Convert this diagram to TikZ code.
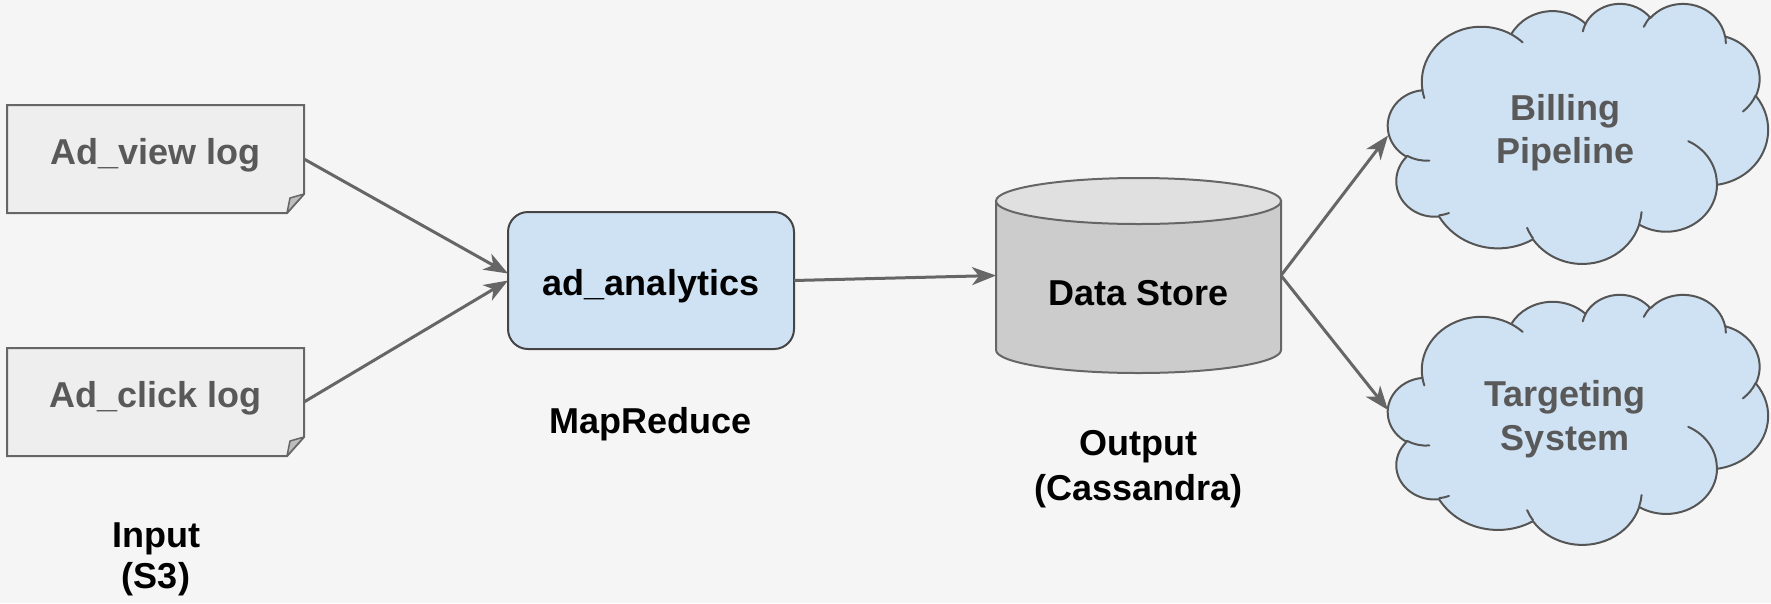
\documentclass[tikz,border=0pt]{standalone}
\usepackage{fontspec}
\setmainfont{Liberation Sans}
\usetikzlibrary{arrows.meta}

\definecolor{canvas}{HTML}{F5F5F5}
\definecolor{docfill}{HTML}{EEEEEE}
\definecolor{docline}{HTML}{666666}
\definecolor{foldfill}{HTML}{BDBDBD}
\definecolor{softtext}{HTML}{595959}
\definecolor{paleblue}{HTML}{CFE2F3}
\definecolor{boxline}{HTML}{454545}
\definecolor{cloudline}{HTML}{555555}
\definecolor{drumbody}{HTML}{CCCCCC}
\definecolor{drumtop}{HTML}{E0E0E0}
\definecolor{wire}{HTML}{666666}

\pgfdeclarelayer{shapes}
\pgfsetlayers{shapes,main}

\tikzset{
  bigtext/.style={font=\fontsize{36}{40}\selectfont\bfseries},
  frame/.style={inner sep=0pt, outer sep=0pt},
  docbox/.style={frame, bigtext, text=softtext, minimum width=297pt, minimum height=108pt,
    text height=26pt, text depth=16pt},
  docshape/.style={fill=docfill, draw=docline, line width=2pt, line join=miter},
  foldshape/.style={fill=foldfill, draw=docline, line width=1.5pt, line join=round},
  jobbox/.style={frame, bigtext, fill=paleblue, draw=boxline, line width=2pt,
    rounded corners=20pt, minimum width=286pt, minimum height=137pt,
    text height=29pt, text depth=0pt},
  drumframe/.style={frame, bigtext, minimum width=285pt, minimum height=195pt,
    text height=59pt, text depth=0pt},
  drumline/.style={draw=docline, line width=2pt},
  cloudframe/.style={frame, minimum width=380pt},
  cloudshape/.style={fill=paleblue, draw=cloudline, line width=2pt, line join=round},
  cloudcrease/.style={draw=cloudline, line width=2pt, line cap=round},
  cloudtext/.style={bigtext, text=softtext, anchor=base, inner sep=0pt},
  caption/.style={bigtext, text=black, anchor=base, inner sep=0pt},
  flow/.style={draw=wire, line width=3pt,
    -{Stealth[length=24pt, width=18pt, inset=7pt]}},
  % elliptical arc given by radii, start angle and sweep measured on the ellipse as seen
  ooarc/.style n args={4}{insert path={
    arc[start angle={ppa(#3,#1,#2)},
        delta angle={mod(ppa(#3+#4,#1,#2)-ppa(#3,#1,#2)+720,360)},
        x radius=#1, y radius=#2]}},
}

% cloud outline with its inner creases, in a 100 x 100 box
\newcommand\cloudpath{%
  \path[cloudshape] (9.0278,33.2639)
    [ooarc={15.6319}{21.2731}{-190.4875}{123.7805}]
    [ooarc={12.3449}{16.8218}{-144.1024}{89.9452}]
    [ooarc={10.1042}{13.7616}{-145.8079}{99.7230}]
    [ooarc={11.2431}{15.2662}{-130.9861}{117.2417}]
    [ooarc={12.3449}{16.8356}{-78.7089}{109.0269}]
    [ooarc={15.6829}{21.3426}{-46.2673}{130.2690}]
    [ooarc={13.3912}{18.2106}{0.6250}{114.0333}]
    [ooarc={15.6296}{21.3310}{22.4516}{115.1726}]
    [ooarc={17.8704}{24.4051}{66.2426}{75.7110}]
    [ooarc={10.0926}{13.6991}{-274.9421}{146.7356}]
    [ooarc={10.0579}{13.7616}{-246.8285}{152.5189}]
    -- cycle;
  \path[cloudcrease]
    (10.8634,60.5949) [ooarc={10.0579}{13.7616}{86.7420}{26.4295}]
    (16.0370,80.7847) [ooarc={10.0926}{13.6991}{73.6105}{11.4475}]
    (38.1435,90.4861) [ooarc={15.6296}{21.3310}{137.6242}{14.0811}]
    (66.7292,80.4421) [ooarc={15.6296}{21.3310}{6.4533}{15.9984}]
    (79.0023,53.1343) [ooarc={13.3912}{18.2106}{-70.2924}{70.9174}]
    (96.7546,35.5417) [ooarc={12.3449}{16.8356}{30.3180}{27.7515}]
    (88.7130,12.5602) [ooarc={11.2431}{15.2662}{-13.7443}{14.8589}]
    (67.3102,9.1481)  [ooarc={11.2431}{15.2662}{-149.1815}{18.1954}]
    (51.2523,10.9259) [ooarc={10.1042}{13.7616}{-163.4943}{17.6864}]
    (32.4074,12.0185) [ooarc={15.6319}{21.2731}{-66.7070}{12.3194}]
    (9.5532,36.5486)  [ooarc={15.6319}{21.2731}{157.6544}{11.8582}];
}

\begin{document}
\begin{tikzpicture}[x=1pt, y=-1pt,
  declare function={ppa(\a,\w,\h)=atan2(\w*sin(\a),\h*cos(\a));}]

\begin{pgfonlayer}{shapes}
  \fill[canvas] (0,0) rectangle (1771,603);
\end{pgfonlayer}
\useasboundingbox (0,0) rectangle (1771,603);

% input logs (folded-corner documents)
\node[docbox] (view)  at (155.5,159) {Ad\_view log};
\node[docbox] (click) at (155.5,402) {Ad\_click log};
\begin{pgfonlayer}{shapes}
\foreach \d in {view,click}{
  \path[docshape] (\d.north west) -- (\d.north east) -- ([yshift=19pt]\d.south east)
    -- ([xshift=-17pt]\d.south east) -- (\d.south west) -- cycle;
  \path[foldshape] ([yshift=19pt]\d.south east) -- ([xshift=-17pt]\d.south east)
    -- ([xshift=-14pt,yshift=15pt]\d.south east) -- cycle;
}
\end{pgfonlayer}

% MapReduce job
\node[jobbox] (job) at (651,280.5) {ad\_analytics};

% data store drum
\node[drumframe] (store) at (1138.5,275.5) {Data Store};
\begin{pgfonlayer}{shapes}
  \path[drumline, fill=drumbody] (996,201) -- (996,350)
    arc[start angle=180, end angle=0, x radius=142.5, y radius=23]
    -- (1281,201) -- cycle;
  \path[drumline, fill=drumtop] (1138.5,201) ellipse[x radius=142.5, y radius=23];
\end{pgfonlayer}

% consumers
\node[cloudframe, minimum height=259pt] (billing)   at (1578,132.5) {};
\node[cloudframe, minimum height=236pt] (targeting) at (1578,412) {};
\begin{scope}[shift={(1388,3)}, x=3.8pt, y=-2.6pt]
  \cloudpath
\end{scope}
\begin{scope}[shift={(1388,294)}, x=3.8pt, y=-2.5pt]
  \cloudpath
\end{scope}
\node[cloudtext] at (1565,120) {Billing};
\node[cloudtext] at (1565,163) {Pipeline};
\node[cloudtext] at (1565,406) {Targeting};
\node[cloudtext] at (1565,450) {System};

% stage captions
\node[caption] at (156,547) {Input};
\node[caption] at (156,588) {(S3)};
\node[caption] at (650.5,433) {MapReduce};
\node[caption] at (1138.5,455) {Output};
\node[caption] at (1138.5,500) {(Cassandra)};

% data flow
\draw[flow] (view.east)  -- ([yshift=7pt]job.west);
\draw[flow] (click.east) -- (job.west);
\draw[flow] (job.east)   -- (store.west);
\draw[flow] (store.east) -- ([yshift=-3pt]billing.west);
\draw[flow] (store.east) -- ([yshift=2pt]targeting.west);
\end{tikzpicture}
\end{document}
